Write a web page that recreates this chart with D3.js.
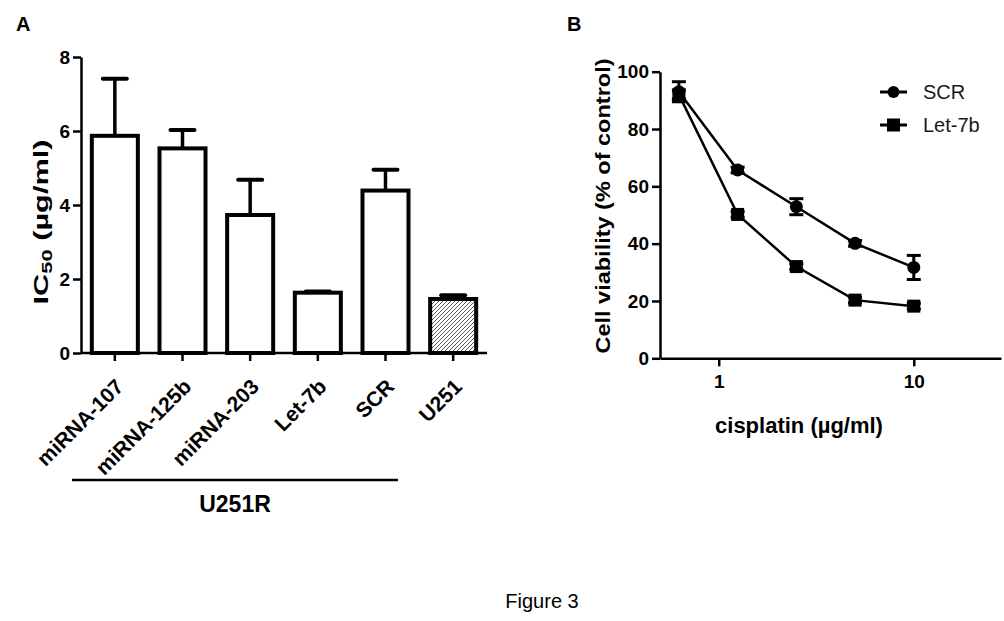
<!DOCTYPE html>
<html><head><meta charset="utf-8">
<script src="https://cdn.jsdelivr.net/npm/d3@7"></script>
<style>
html,body{margin:0;padding:0;background:#fff;}
text{font-family:Arial,"Liberation Sans",sans-serif;}
</style></head>
<body><svg id="c" width="1004" height="621"></svg>
<script>
// ---- Panel A data ----
const catsA = ["miRNA-107","miRNA-125b","miRNA-203","Let-7b","SCR","U251"];
const icMean = [5.87, 5.53, 3.73, 1.63, 4.39, 1.46];
const icErr  = [1.54, 0.50, 0.95, 0.03, 0.56, 0.10];
const hatched = [false,false,false,false,false,true];
const yTicksA = [0,2,4,6,8];
const groupLabel = "U251R";

// ---- Panel B data ----
const doses   = [0.625, 1.25, 2.5, 5, 10];
const scrMean = [93, 65.7, 52.9, 40.1, 31.7];
const scrErr  = [3.5, 1.0, 2.8, 1.0, 4.2];
const letMean = [92, 50.2, 32.0, 20.3, 18.2];
const letErr  = [1.5, 1.0, 1.0, 1.0, 1.0];
const seriesNames = ["SCR","Let-7b"];
const yTicksB = [0,20,40,60,80,100];
const xTicksB = [1,10];

const svg = d3.select("#c");
svg.append("rect").attr("width",1004).attr("height",621).attr("fill","#fff");
const defs = svg.append("defs");
const pat = defs.append("pattern").attr("id","hatch").attr("patternUnits","userSpaceOnUse")
  .attr("width",4).attr("height",4);
pat.append("rect").attr("width",4).attr("height",4).attr("fill","#fff");
pat.append("path").attr("d","M-1,1 l2,-2 M0,4 l4,-4 M3,5 l2,-2").attr("stroke","#555").attr("stroke-width",1);

// ================= Panel A =================
const xA = d3.scaleBand().domain(catsA).range([81,487]).paddingInner(0.32).paddingOuter(0.16);
const yA = d3.scaleLinear().domain([0,8]).range([353,57]);
const gA = svg.append("g");

gA.selectAll("rect.bar").data(catsA).join("rect")
  .attr("x", d=>xA(d)).attr("width", xA.bandwidth())
  .attr("y", (d,i)=>yA(icMean[i])).attr("height",(d,i)=>yA(0)-yA(icMean[i]))
  .attr("fill",(d,i)=>hatched[i]?"url(#hatch)":"#fff")
  .attr("stroke","#000").attr("stroke-width",4);

catsA.forEach((d,i)=>{
  const cx = xA(d)+xA.bandwidth()/2;
  gA.append("line").attr("x1",cx).attr("x2",cx).attr("y1",yA(icMean[i])).attr("y2",yA(icMean[i]+icErr[i]))
    .attr("stroke","#000").attr("stroke-width",3.5);
  gA.append("line").attr("x1",cx-12).attr("x2",cx+12).attr("y1",yA(icMean[i]+icErr[i])).attr("y2",yA(icMean[i]+icErr[i]))
    .attr("stroke","#000").attr("stroke-width",4).attr("stroke-linecap","round");
});

const ayA = gA.append("g").attr("transform","translate(81,0)")
  .call(d3.axisLeft(yA).tickValues(yTicksA).tickSize(8).tickSizeOuter(0).tickPadding(3));
ayA.select(".domain").attr("stroke-width",2.5);
ayA.selectAll(".tick line").attr("stroke-width",2.5);
ayA.selectAll(".tick text").attr("font-size",19).attr("font-weight","bold").attr("fill","#000")
  .attr("font-family","Arial, 'Liberation Sans', sans-serif");

const axA = gA.append("g").attr("transform","translate(0,353)")
  .call(d3.axisBottom(xA).tickSize(8).tickSizeOuter(0));
axA.select(".domain").attr("stroke-width",2.5).attr("d","M81,0H487");
axA.selectAll(".tick line").attr("stroke-width",2.5);
axA.selectAll(".tick text").attr("font-size",21).attr("font-weight","bold").attr("fill","#000")
  .attr("font-family","Arial, 'Liberation Sans', sans-serif")
  .attr("text-anchor","end").attr("dy",0).attr("y",0)
  .attr("transform","translate(10,35) rotate(-45)");

gA.append("line").attr("x1",72).attr("x2",398).attr("y1",480).attr("y2",480)
  .attr("stroke","#000").attr("stroke-width",2.5);
gA.append("text").attr("x",235).attr("y",512).attr("text-anchor","middle")
  .attr("font-size",23).attr("font-weight","bold").text(groupLabel);

const yt = gA.append("text").attr("transform","translate(48,222) rotate(-90)")
  .attr("text-anchor","middle").attr("font-size",21).attr("font-weight","bold")
  .attr("textLength",165).attr("lengthAdjust","spacingAndGlyphs");
yt.append("tspan").text("IC");
yt.append("tspan").attr("font-size",15).attr("dy",4).text("50");
yt.append("tspan").attr("dy",-4).text(" (\u00b5g/ml)");

svg.append("text").attr("x",16).attr("y",31).attr("font-size",20).attr("font-weight","bold").text("A");

// ================= Panel B =================
const xB = d3.scaleLog().domain([0.5,28]).range([660,1001]);
const yB = d3.scaleLinear().domain([0,100]).range([358.3,71.7]);
const gB = svg.append("g");

const ayB = gB.append("g").attr("transform","translate(660,0)")
  .call(d3.axisLeft(yB).tickValues(yTicksB).tickSize(8).tickSizeOuter(0).tickPadding(3));
ayB.select(".domain").attr("stroke-width",2.5);
ayB.selectAll(".tick line").attr("stroke-width",2.5);
ayB.selectAll(".tick text").attr("font-size",19).attr("font-weight","bold").attr("fill","#000")
  .attr("font-family","Arial, 'Liberation Sans', sans-serif");

const axB = gB.append("g").attr("transform","translate(0,358.3)")
  .call(d3.axisBottom(xB).tickValues(xTicksB).tickFormat(d3.format("d")).tickSize(8).tickSizeOuter(0).tickPadding(8));
axB.select(".domain").attr("stroke-width",2.5);
axB.selectAll(".tick line").attr("stroke-width",2.5);
axB.selectAll(".tick text").attr("font-size",19).attr("font-weight","bold").attr("fill","#000")
  .attr("font-family","Arial, 'Liberation Sans', sans-serif");

const series = [
  {name:seriesNames[0], mean:scrMean, err:scrErr, shape:"circle"},
  {name:seriesNames[1], mean:letMean, err:letErr, shape:"square"}
];
const line = d3.line().x(d=>xB(d[0])).y(d=>yB(d[1]));
series.forEach(s=>{
  const pts = doses.map((d,i)=>[d,s.mean[i]]);
  gB.append("path").datum(pts).attr("d",line).attr("fill","none").attr("stroke","#000").attr("stroke-width",2.5);
});
series.forEach(s=>{
  doses.forEach((d,i)=>{
    const cx = xB(d), y1 = yB(s.mean[i]+s.err[i]), y2 = yB(s.mean[i]-s.err[i]);
    gB.append("line").attr("x1",cx).attr("x2",cx).attr("y1",y1).attr("y2",y2).attr("stroke","#000").attr("stroke-width",3);
    [y1,y2].forEach(yy=>gB.append("line").attr("x1",cx-7).attr("x2",cx+7).attr("y1",yy).attr("y2",yy)
      .attr("stroke","#000").attr("stroke-width",3));
    if(s.shape==="circle") gB.append("circle").attr("cx",cx).attr("cy",yB(s.mean[i])).attr("r",6.5).attr("fill","#000");
    else gB.append("rect").attr("x",cx-6.5).attr("y",yB(s.mean[i])-6.5).attr("width",13).attr("height",13).attr("fill","#000");
  });
});

series.forEach((s,k)=>{
  const ly = 92 + k*33;
  gB.append("line").attr("x1",880).attr("x2",907).attr("y1",ly).attr("y2",ly).attr("stroke","#000").attr("stroke-width",3);
  if(s.shape==="circle") gB.append("circle").attr("cx",893.5).attr("cy",ly).attr("r",6).attr("fill","#000");
  else gB.append("rect").attr("x",887).attr("y",ly-6.5).attr("width",13).attr("height",13).attr("fill","#000");
  gB.append("text").attr("x",923).attr("y",ly+7).attr("font-size",20).attr("fill","#1a1a1a").text(s.name);
});

gB.append("text").attr("transform","translate(610,206) rotate(-90)")
  .attr("text-anchor","middle").attr("font-size",20).attr("font-weight","bold")
  .attr("textLength",295).attr("lengthAdjust","spacingAndGlyphs")
  .text("Cell viability (% of control)");
gB.append("text").attr("x",799).attr("y",433).attr("text-anchor","middle")
  .attr("font-size",22).attr("font-weight","bold").text("cisplatin (\u00b5g/ml)");
svg.append("text").attr("x",567).attr("y",31).attr("font-size",20).attr("font-weight","bold").text("B");

svg.append("text").attr("x",542).attr("y",608).attr("text-anchor","middle").attr("font-size",20).text("Figure 3");
</script></body></html>
